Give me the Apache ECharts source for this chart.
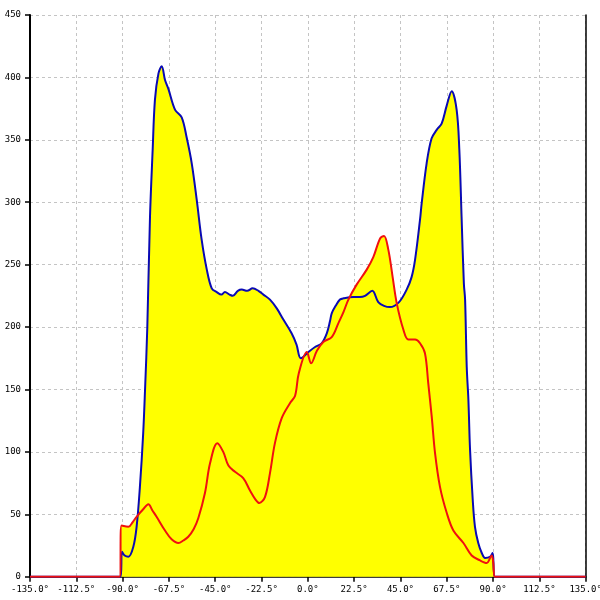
<!DOCTYPE html>
<html>
<head>
<meta charset="utf-8">
<script src="https://cdn.jsdelivr.net/npm/echarts@6/dist/echarts.min.js"></script>
<style>html,body{margin:0;padding:0;background:#fff;}#c{width:600px;height:600px;}</style>
</head>
<body>
<div id="c"></div>
<script>
const xTicks = [-135, -112.5, -90, -67.5, -45, -22.5, 0, 22.5, 45, 67.5, 90, 112.5, 135];
const yTicks = [0, 50, 100, 150, 200, 250, 300, 350, 400, 450];

const blueAngles = [-135, -91, -90.3, -89, -87.2, -84.8, -83.2, -81.6, -80, -79.1, -78, -76.7, -75.4, -74.3, -72.6, -71, -69.4, -67.8, -64.5, -61.3, -58.9, -56.4, -54, -51.6, -49.1, -46.7, -44.3, -42, -40.3, -38, -36.5, -34, -32.1, -29.5, -26.8, -24, -21.6, -18.4, -15.1, -11.9, -7.9, -5.5, -3.4, 0.3, 3.5, 6.7, 9.2, 10.8, 11.6, 13.5, 15.6, 17.3, 22.1, 25.3, 27.8, 31.3, 34.2, 37, 39.9, 44.3, 48, 50.4, 52.1, 54.5, 55.3, 57.7, 60.1, 62.6, 65, 67.4, 69.9, 72.3, 73.6, 74.7, 75.8, 76.4, 77.2, 78, 78.8, 80.1, 81.2, 82.8, 84.5, 86.1, 88.5, 89.8, 90.9, 135];
const blueValues = [0, 0, 20, 17, 16, 24, 40, 72, 115, 150, 200, 288, 342, 382, 403, 409, 398, 391, 374, 368, 352, 331, 302, 270, 246, 231, 228, 226, 228, 226, 225, 229, 230, 229, 231, 229, 226, 222, 215, 206, 195, 186, 175, 180, 184, 187, 195, 205, 211, 217, 222, 223, 224, 224, 225, 229, 220, 217, 216, 220, 230, 240, 254, 286, 299, 331, 351, 358, 363, 377, 389, 374, 342, 288, 235, 222, 168, 142, 102, 62, 40, 27, 19, 15, 16, 19, 0, 0];

const redAngles = [-135, -91.5, -90.5, -87.2, -85, -83.2, -80, -77.5, -75.5, -73.5, -69.4, -66.2, -62.9, -60.5, -58.1, -55.5, -53.2, -50, -47.5, -44, -41.1, -38.6, -35.4, -31.4, -28.1, -25.5, -23.6, -20.8, -18.4, -16, -12.7, -8.7, -6.2, -4.4, -0.5, 1.6, 4.4, 7.5, 11.6, 14.8, 17.3, 19.7, 23.7, 28.6, 31.8, 35.1, 37, 39.1, 41.2, 43.2, 46.4, 48.8, 52.1, 54.5, 56.9, 58.5, 60.2, 61.8, 64.2, 67.5, 70.7, 75.6, 79.6, 83.7, 86.9, 89.3, 90.1, 90.9, 135];
const redValues = [0, 0, 41, 40, 44, 48, 54, 58, 53, 48, 37, 30, 27, 29, 32, 38, 47, 67, 91, 107, 100, 89, 84, 79, 69, 62, 59, 64, 83, 107, 127, 139, 145, 163, 180, 171, 181, 188, 192, 203, 212, 222, 234, 246, 256, 271, 273, 262, 240, 219, 198, 190, 190, 187, 179, 155, 128, 99, 72, 51, 37, 27, 17, 13, 11, 17, 11, 0, 0];

const pairs = (xs, ys) => xs.map((x, i) => [x, ys[i]]);
const blueData = pairs(blueAngles, blueValues);
const redData = pairs(redAngles, redValues);

const font = { fontFamily: 'DejaVu Sans Mono', fontSize: 9, color: '#000' };
const dash = { show: true, lineStyle: { color: '#c4c4c4', type: [3, 3], width: 1 } };
const SM = 0.35;

const chart = echarts.init(document.getElementById('c'), null, { renderer: 'canvas' });
chart.setOption({
  animation: false,
  backgroundColor: '#fff',
  grid: { left: 30, right: 14.3, top: 15, bottom: 23.3, containLabel: false, outerBoundsMode: 'none' },
  xAxis: {
    type: 'value', min: xTicks[0], max: xTicks[xTicks.length - 1], interval: 22.5,
    axisLine: { show: true, onZero: false, lineStyle: { color: '#000', width: 1.5 } },
    axisTick: { show: true, length: 5, lineStyle: { color: '#000', width: 1.5 } },
    axisLabel: Object.assign({ margin: 8, formatter: v => v.toFixed(1) + '°' }, font),
    splitLine: dash
  },
  yAxis: [{
    type: 'value', min: yTicks[0], max: yTicks[yTicks.length - 1], interval: 50,
    axisLine: { show: true, onZero: false, lineStyle: { color: '#000', width: 2 } },
    axisTick: { show: true, length: 5, lineStyle: { color: '#000', width: 1.5 } },
    axisLabel: Object.assign({ margin: 9 }, font),
    splitLine: dash
  }, {
    type: 'value', position: 'right', min: yTicks[0], max: yTicks[yTicks.length - 1], interval: 50,
    axisLine: { show: true, onZero: false, lineStyle: { color: '#000', width: 1.5 } },
    axisTick: { show: false }, axisLabel: { show: false }, splitLine: { show: false }
  }],
  series: [
    { type: 'line', data: blueData, smooth: SM, showSymbol: false, z: 1,
      lineStyle: { width: 0, opacity: 0 }, areaStyle: { color: '#ffff00', opacity: 1 } },
    { type: 'line', data: redData, smooth: SM, showSymbol: false, z: 1,
      lineStyle: { width: 0, opacity: 0 }, areaStyle: { color: '#ffff00', opacity: 1 } },
    { type: 'line', data: blueData, smooth: SM, showSymbol: false, z: 3,
      lineStyle: { width: 2, color: '#0a0ab4' } },
    { type: 'line', data: redData, smooth: SM, showSymbol: false, z: 4,
      lineStyle: { width: 2, color: '#f01010' } }
  ]
});
</script>
</body>
</html>
